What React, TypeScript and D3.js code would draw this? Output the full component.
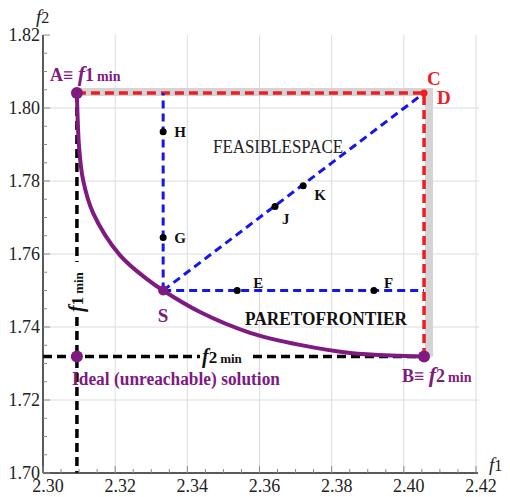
import { useEffect, useRef } from 'react';
import * as d3 from 'd3';

// axis ticks
const xTicks = [2.30, 2.32, 2.34, 2.36, 2.38, 2.40, 2.42];
const yTicks = [1.70, 1.72, 1.74, 1.76, 1.78, 1.80, 1.82];

// pareto frontier
const paretoF1 = [2.3094, 2.3100, 2.3111, 2.3139, 2.3213, 2.3291, 2.3333, 2.3435, 2.3574, 2.3712, 2.3851, 2.3989, 2.4056];
const paretoF2 = [1.8041, 1.7893, 1.7803, 1.7712, 1.7597, 1.7529, 1.7500, 1.7441, 1.7384, 1.7351, 1.7329, 1.7321, 1.7319];

// key points
const pointA = [2.3094, 1.8041];
const pointB = [2.4056, 1.7319];
const pointC = [2.4056, 1.8041];
const pointS = [2.3333, 1.7500];
const pointIdeal = [2.3094, 1.7319];

// points inside the feasible space
const innerNames = ['H', 'G', 'J', 'K', 'E', 'F'];
const innerF1 = [2.3333, 2.3333, 2.3643, 2.3721, 2.3538, 2.3917];
const innerF2 = [1.7935, 1.7645, 1.7730, 1.7787, 1.7500, 1.7500];

const PURPLE = '#7e1a80';
const RED = '#f01c24';
const BLUE = '#1515ee';
const SERIF = '"Liberation Serif", "Times New Roman", serif';

function App() {
    const svgRef = useRef(null);

    useEffect(() => {
        const width = 510, height = 497;
        d3.select(svgRef.current).selectAll('*').remove();
        const svg = d3.select(svgRef.current)
            .attr('width', width)
            .attr('height', height)
            .style('font-family', SERIF);

        const x = d3.scaleLinear().domain([2.30, 2.42]).range([43, 476]);
        const y = d3.scaleLinear().domain([1.70, 1.82]).range([473, 35]);

        // grid
        svg.append('g').selectAll('line')
            .data(xTicks.slice(1))
            .join('line')
            .attr('x1', d => x(d)).attr('x2', d => x(d))
            .attr('y1', y(1.82)).attr('y2', y(1.70))
            .attr('stroke', '#dcdcdc').attr('stroke-width', 1);
        svg.append('g').selectAll('line')
            .data(yTicks.slice(1, -1))
            .join('line')
            .attr('x1', x(2.30)).attr('x2', x(2.42) + 3)
            .attr('y1', d => y(d)).attr('y2', d => y(d))
            .attr('stroke', '#dcdcdc').attr('stroke-width', 1);

        // grey band behind the red rectangle (offset up/right like the original)
        svg.append('path')
            .attr('d', d3.line()([[x(pointA[0]), y(pointA[1]) - 1], [x(pointC[0]) + 5, y(pointC[1]) - 1], [x(pointB[0]) + 5, y(pointB[1])]]))
            .attr('fill', 'none').attr('stroke', '#d4d4d4').attr('stroke-width', 8);

        // black dashed lines through the ideal point
        svg.append('line')
            .attr('x1', x(pointIdeal[0])).attr('x2', x(pointIdeal[0]))
            .attr('y1', y(pointA[1])).attr('y2', y(1.70))
            .attr('stroke', '#000').attr('stroke-width', 3.5).attr('stroke-dasharray', '9,5');
        svg.append('line')
            .attr('x1', x(2.30)).attr('x2', x(pointB[0]))
            .attr('y1', y(pointIdeal[1])).attr('y2', y(pointIdeal[1]))
            .attr('stroke', '#000').attr('stroke-width', 3.5).attr('stroke-dasharray', '9,5');

        // red dashed A - C/D - B
        svg.append('path')
            .attr('d', d3.line()([pointA, pointC, pointB].map(p => [x(p[0]), y(p[1])])))
            .attr('fill', 'none').attr('stroke', RED).attr('stroke-width', 3.5).attr('stroke-dasharray', '9,5');

        // blue dashed from S
        const blueLines = [[pointS, [pointS[0], pointA[1]]], [pointS, [pointB[0], pointS[1]]], [pointS, pointC]];
        svg.append('g').selectAll('path')
            .data(blueLines)
            .join('path')
            .attr('d', d => d3.line()(d.map(p => [x(p[0]), y(p[1])])))
            .attr('fill', 'none').attr('stroke', BLUE).attr('stroke-width', 3).attr('stroke-dasharray', '8,5');

        // pareto curve
        const curve = d3.line().curve(d3.curveCatmullRom.alpha(0.5))
            .x((d, i) => x(paretoF1[i])).y((d, i) => y(paretoF2[i]));
        svg.append('path')
            .attr('d', curve(paretoF1))
            .attr('fill', 'none').attr('stroke', PURPLE).attr('stroke-width', 4);

        // axes
        const axes = svg.append('g').attr('stroke', '#222');
        axes.append('line').attr('x1', x(2.30)).attr('x2', x(2.42) + 2).attr('y1', y(1.70)).attr('y2', y(1.70)).attr('stroke-width', 1.5);
        axes.append('line').attr('x1', x(2.30)).attr('x2', x(2.30)).attr('y1', y(1.70)).attr('y2', y(1.82)).attr('stroke-width', 1.5);
        const minorX = d3.range(0, 25).map(i => 2.30 + i * 0.005);
        const minorY = d3.range(0, 25).map(i => 1.70 + i * 0.005);
        axes.selectAll('line.tx').data(minorX).join('line').attr('class', 'tx')
            .attr('x1', d => x(d)).attr('x2', d => x(d))
            .attr('y1', y(1.70)).attr('y2', (d, i) => y(1.70) - (i % 4 === 0 ? 7 : 4))
            .attr('stroke', '#888').attr('stroke-width', 1);
        axes.selectAll('line.ty').data(minorY).join('line').attr('class', 'ty')
            .attr('y1', d => y(d)).attr('y2', d => y(d))
            .attr('x1', x(2.30)).attr('x2', (d, i) => x(2.30) + (i % 4 === 0 ? 7 : 4))
            .attr('stroke', '#888').attr('stroke-width', 1);

        svg.append('g').selectAll('text')
            .data(xTicks)
            .join('text')
            .attr('x', d => x(d) + 5).attr('y', 492)
            .attr('text-anchor', 'middle').attr('font-size', 18).attr('fill', '#222')
            .text(d => d.toFixed(2));
        svg.append('g').selectAll('text')
            .data(yTicks)
            .join('text')
            .attr('x', 40).attr('y', d => y(d) + 6)
            .attr('text-anchor', 'end').attr('font-size', 18).attr('fill', '#222')
            .text(d => d.toFixed(2));

        // axis titles
        const f2t = svg.append('text').attr('x', 36).attr('y', 23).attr('font-size', 19).attr('fill', '#222');
        f2t.append('tspan').attr('font-style', 'italic').text('f');
        f2t.append('tspan').attr('font-size', 16).text('2');
        const f1t = svg.append('text').attr('x', 489).attr('y', 471).attr('font-size', 19).attr('fill', '#222');
        f1t.append('tspan').attr('font-style', 'italic').text('f');
        f1t.append('tspan').attr('font-size', 16).text('1');

        // markers
        svg.append('g').selectAll('circle')
            .data([pointA, pointIdeal, pointB])
            .join('circle')
            .attr('cx', d => x(d[0])).attr('cy', d => y(d[1])).attr('r', 6).attr('fill', PURPLE);
        svg.append('circle').attr('cx', x(pointS[0])).attr('cy', y(pointS[1])).attr('r', 5).attr('fill', PURPLE);
        svg.append('circle').attr('cx', x(pointC[0])).attr('cy', y(pointC[1])).attr('r', 3.5).attr('fill', RED);

        svg.append('g').selectAll('circle')
            .data(innerNames)
            .join('circle')
            .attr('cx', (d, i) => x(innerF1[i])).attr('cy', (d, i) => y(innerF2[i]))
            .attr('r', 3.5).attr('fill', '#000');

        const labelOffsets = { H: [11, 5], G: [11, 5], J: [7, 17], K: [11, 14], E: [16, -3], F: [10, -3] };
        svg.append('g').selectAll('text')
            .data(innerNames)
            .join('text')
            .attr('x', (d, i) => x(innerF1[i]) + labelOffsets[d][0])
            .attr('y', (d, i) => y(innerF2[i]) + labelOffsets[d][1])
            .attr('font-size', 15).attr('font-weight', 'bold').attr('fill', '#111')
            .text(d => d);

        // region labels
        svg.append('text').attr('x', 213).attr('y', 153).attr('font-size', 18).attr('fill', '#222')
            .attr('textLength', 130).attr('lengthAdjust', 'spacingAndGlyphs').text('FEASIBLESPACE');
        svg.append('text').attr('x', 245).attr('y', 325).attr('font-size', 19).attr('font-weight', 'bold').attr('fill', '#111')
            .attr('textLength', 162).attr('lengthAdjust', 'spacingAndGlyphs').text('PARETOFRONTIER');

        // point labels
        const aLabel = svg.append('text').attr('x', 50).attr('y', 81).attr('fill', PURPLE).attr('font-weight', 'bold').attr('font-size', 18);
        aLabel.append('tspan').text('A≡ ');
        aLabel.append('tspan').attr('font-style', 'italic').attr('font-size', 22).text('f');
        aLabel.append('tspan').text('1');
        aLabel.append('tspan').attr('font-size', 14).attr('dx', 3).text('min');

        const bLabel = svg.append('text').attr('x', 402).attr('y', 382).attr('fill', PURPLE).attr('font-weight', 'bold').attr('font-size', 18);
        bLabel.append('tspan').text('B≡ ');
        bLabel.append('tspan').attr('font-style', 'italic').attr('font-size', 22).text('f');
        bLabel.append('tspan').text('2');
        bLabel.append('tspan').attr('font-size', 14).attr('dx', 3).text('min');

        svg.append('text').attr('x', 427).attr('y', 85).attr('fill', RED).attr('font-weight', 'bold').attr('font-size', 19).text('C');
        svg.append('text').attr('x', 437).attr('y', 104).attr('fill', RED).attr('font-weight', 'bold').attr('font-size', 19).text('D');
        svg.append('text').attr('x', x(pointS[0])).attr('y', 322).attr('text-anchor', 'middle')
            .attr('fill', PURPLE).attr('font-weight', 'bold').attr('font-size', 19).text('S');

        svg.append('text').attr('x', 72).attr('y', 385).attr('fill', PURPLE).attr('font-weight', 'bold').attr('font-size', 18)
            .attr('textLength', 208).attr('lengthAdjust', 'spacingAndGlyphs').text('Ideal  (unreachable) solution');

        // f2 min on the horizontal black dashes
        svg.append('rect').attr('x', 200).attr('y', y(pointIdeal[1]) - 8).attr('width', 50).attr('height', 16).attr('fill', '#fff');
        const f2min = svg.append('text').attr('x', 202).attr('y', y(pointIdeal[1]) + 6).attr('fill', '#111').attr('font-weight', 'bold').attr('font-size', 17);
        f2min.append('tspan').attr('font-style', 'italic').attr('font-size', 20).text('f');
        f2min.append('tspan').text('2');
        f2min.append('tspan').attr('font-size', 13).attr('dx', 3).text('min');

        // f1 min on the vertical black dashes
        svg.append('rect').attr('x', x(pointIdeal[0]) - 8).attr('y', 262).attr('width', 16).attr('height', 52).attr('fill', '#fff');
        const f1min = svg.append('text')
            .attr('transform', `translate(${x(pointIdeal[0]) + 6}, 312) rotate(-90)`)
            .attr('fill', '#111').attr('font-weight', 'bold').attr('font-size', 17);
        f1min.append('tspan').attr('font-style', 'italic').attr('font-size', 20).text('f');
        f1min.append('tspan').text('1');
        f1min.append('tspan').attr('font-size', 13).attr('dx', 3).text('min');
    }, []);

    return (
        <svg ref={svgRef} style={{ position: 'absolute', left: 0, top: 0 }} />
    );
}

export default App;
